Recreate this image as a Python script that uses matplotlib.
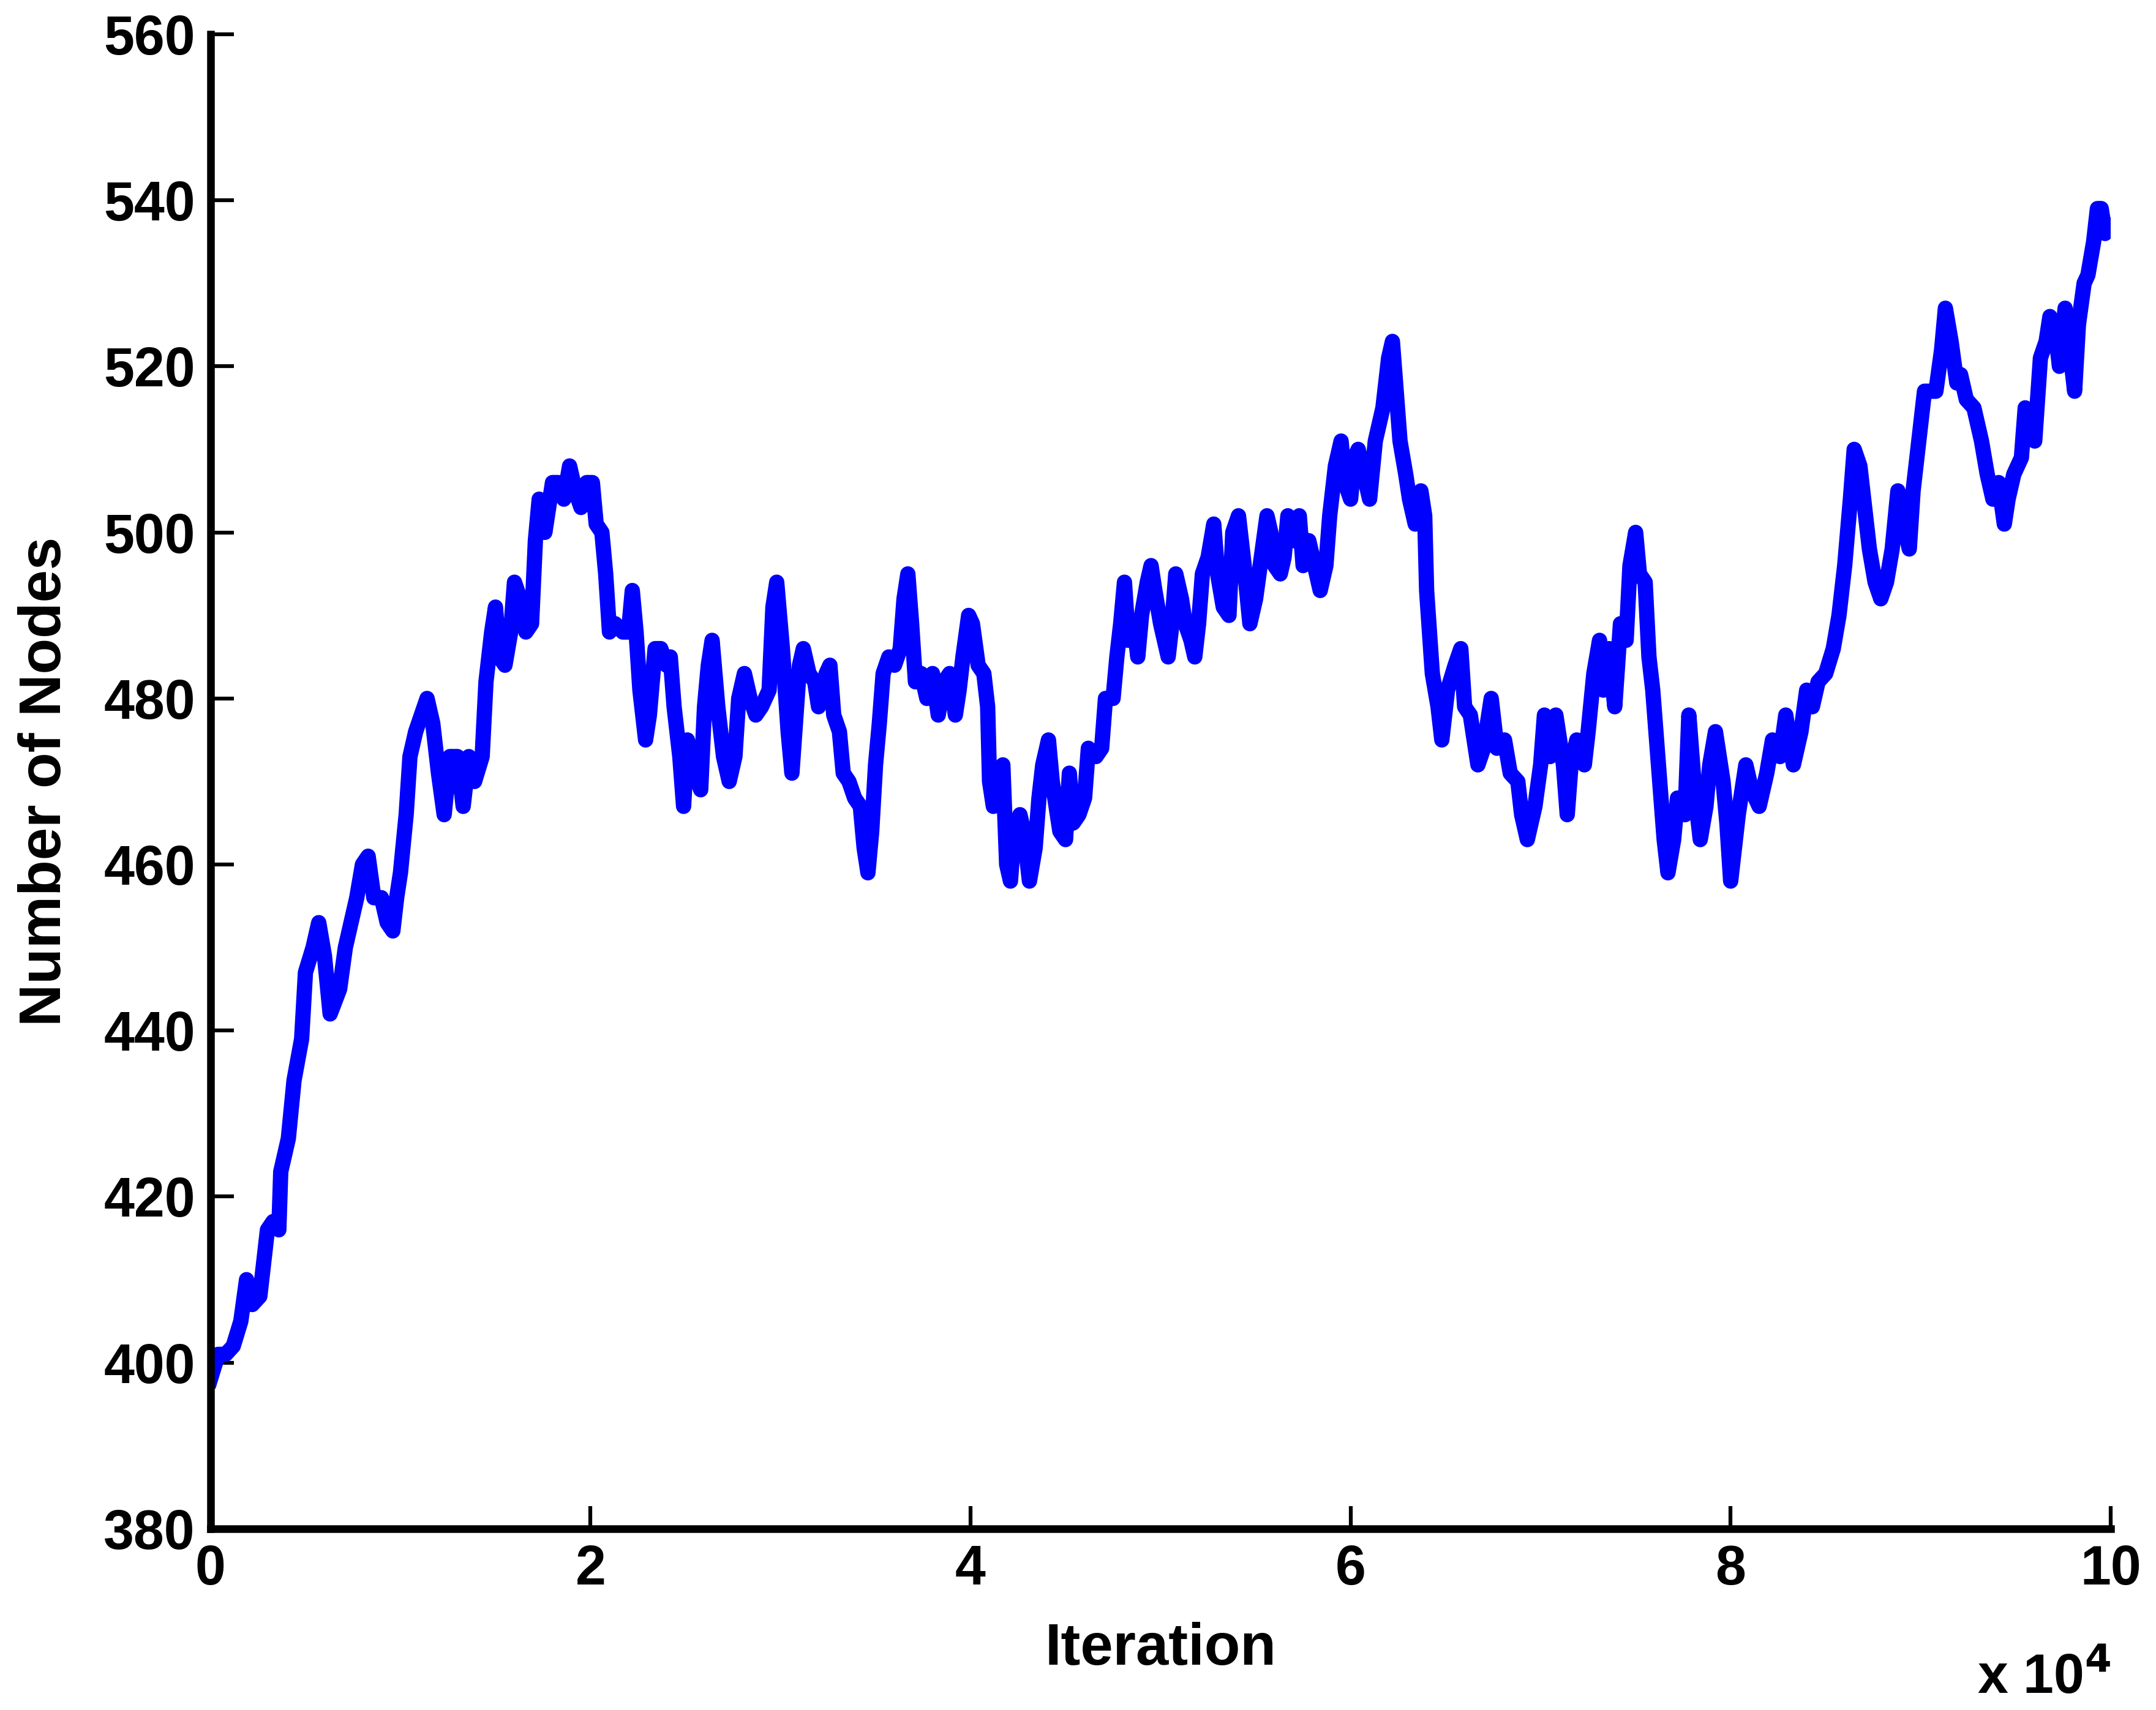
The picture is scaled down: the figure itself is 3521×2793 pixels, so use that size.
import numpy as np
import matplotlib
matplotlib.use('Agg')
import matplotlib.pyplot as plt

# iteration in units of 10^4
iter_e4 = [0.00, 0.04, 0.08, 0.12, 0.16, 0.19, 0.22, 0.26, 0.30, 0.33, 0.36, 0.37, 0.41, 0.44, 0.48, 0.50,
           0.54, 0.57, 0.60, 0.63, 0.68, 0.71, 0.74, 0.77, 0.80, 0.83, 0.86, 0.90, 0.93, 0.96, 0.98, 1.00,
           1.03, 1.05, 1.08, 1.11, 1.14, 1.17, 1.20, 1.23, 1.26, 1.30, 1.33, 1.36, 1.39, 1.43, 1.45, 1.48,
           1.50, 1.52, 1.55, 1.58, 1.60, 1.63, 1.66, 1.69, 1.71, 1.73, 1.76, 1.80, 1.83, 1.86, 1.89, 1.92,
           1.95, 1.98, 2.01, 2.03, 2.06, 2.08, 2.10, 2.13, 2.17, 2.20, 2.22, 2.24, 2.26, 2.29, 2.31, 2.34,
           2.37, 2.40, 2.42, 2.44, 2.47, 2.49, 2.51, 2.55, 2.58, 2.60, 2.62, 2.64, 2.67, 2.70, 2.73, 2.76,
           2.78, 2.81, 2.84, 2.87, 2.90, 2.94, 2.96, 2.98, 3.01, 3.04, 3.06,
           3.10, 3.12, 3.15, 3.18, 3.20, 3.24, 3.26, 3.28, 3.31, 3.33, 3.36, 3.39, 3.42, 3.44, 3.46, 3.48,
           3.50, 3.52, 3.54, 3.57, 3.60, 3.63, 3.65, 3.67, 3.69, 3.71, 3.74, 3.77, 3.80, 3.83, 3.86, 3.89,
           3.92, 3.94, 3.96, 3.99, 4.01, 4.04, 4.07, 4.09, 4.10, 4.12, 4.14, 4.17, 4.19, 4.21, 4.23, 4.26,
           4.28, 4.31, 4.34, 4.36, 4.38, 4.41, 4.43, 4.45, 4.47, 4.50, 4.52, 4.54, 4.57, 4.60, 4.62, 4.66,
           4.69, 4.71, 4.75, 4.77, 4.79, 4.81, 4.83, 4.86, 4.88, 4.90, 4.93, 4.95, 4.97, 5.00, 5.04, 5.06,
           5.08, 5.11, 5.13, 5.16, 5.18, 5.20, 5.22, 5.25, 5.28, 5.30, 5.33, 5.36, 5.38, 5.41, 5.44, 5.47,
           5.50, 5.53, 5.56, 5.58, 5.60, 5.63, 5.65, 5.67, 5.70, 5.73, 5.75, 5.78, 5.81, 5.84, 5.87, 5.89,
           5.92, 5.95, 5.97, 6.00, 6.02, 6.04, 6.07, 6.10, 6.13,
           6.17, 6.20, 6.22, 6.24, 6.26, 6.29, 6.31, 6.34, 6.37, 6.39, 6.40, 6.43, 6.46, 6.48, 6.51, 6.55,
           6.58, 6.60, 6.63, 6.67, 6.70, 6.74, 6.77, 6.81, 6.84, 6.88, 6.90, 6.93, 6.97, 7.00, 7.02, 7.05,
           7.08, 7.12, 7.14, 7.16, 7.19, 7.23, 7.25, 7.28, 7.31, 7.33, 7.36, 7.39, 7.42, 7.45, 7.47, 7.50,
           7.52, 7.55, 7.57, 7.59, 7.62, 7.65, 7.67, 7.70, 7.72, 7.76, 7.78, 7.81, 7.84, 7.87, 7.89, 7.92,
           7.96, 7.98, 8.00, 8.04, 8.08, 8.11, 8.15, 8.19, 8.22, 8.26, 8.29, 8.33, 8.37, 8.40, 8.43, 8.46,
           8.50, 8.54, 8.57, 8.60, 8.63, 8.65, 8.68, 8.70, 8.73, 8.76, 8.79, 8.82, 8.85, 8.88, 8.91, 8.94,
           8.96, 8.99, 9.02, 9.05, 9.08, 9.11, 9.13, 9.16, 9.19, 9.21, 9.24, 9.28, 9.32, 9.35, 9.38, 9.41,
           9.44, 9.46, 9.49, 9.53, 9.55, 9.58, 9.60, 9.63, 9.66, 9.68, 9.71, 9.73, 9.76, 9.79, 9.81, 9.83,
           9.86, 9.88, 9.91, 9.93, 9.95, 9.97, 9.99]

nodes = [398, 401, 401, 402, 405, 410, 407, 408, 416, 417, 416, 423, 427, 434, 439, 447,
         450, 453, 449, 442, 445, 450, 453, 456, 460, 461, 456, 456, 453, 452, 456, 459,
         466, 473, 476, 478, 480, 477, 471, 466, 473, 473, 467, 473, 470, 473, 482, 488,
         491, 485, 484, 488, 494, 492, 488, 489, 499, 504, 500, 506, 506, 504, 508, 505,
         503, 506, 506, 501, 500, 495, 488, 489, 488, 488, 493, 488, 481, 475, 478, 486,
         486, 484, 485, 479, 473, 467, 475, 471, 469, 479, 484, 487, 479, 473, 470, 473,
         480, 483, 480, 478, 479, 481, 491, 494, 486, 476, 471,
         484, 486, 483, 482, 479, 483, 484, 478, 476, 471, 470, 468, 467, 462, 459, 464,
         472, 477, 483, 485, 484, 486, 492, 495, 489, 482, 483, 480, 483, 478, 482, 483,
         478, 481, 485, 490, 489, 484, 483, 479, 470, 467, 471, 472, 460, 458, 464, 466,
         464, 458, 462, 468, 472, 475, 470, 467, 464, 463, 471, 465, 466, 468, 474, 473,
         474, 480, 480, 485, 489, 494, 487, 489, 485, 490, 494, 496, 493, 489, 485, 489,
         495, 492, 489, 487, 485, 489, 495, 497, 501, 495, 491, 490, 500, 502, 496, 489,
         492, 497, 502, 500, 496, 495, 497, 502, 499, 502, 496, 499, 496, 493, 496, 502,
         508, 511, 506, 504, 509, 510, 507, 504, 511,
         515, 521, 523, 517, 511, 507, 504, 501, 505, 502, 493, 483, 479, 475, 481, 484,
         486, 479, 478, 472, 474, 480, 474, 475, 471, 470, 466, 463, 467, 472, 478, 473,
         478, 472, 466, 472, 475, 472, 476, 483, 487, 481, 486, 479, 489, 487, 496, 500,
         495, 494, 485, 481, 472, 463, 459, 463, 468, 466, 478, 469, 463, 467, 472, 476,
         470, 465, 458, 466, 472, 469, 467, 471, 475, 473, 478, 472, 476, 481, 479, 482,
         483, 486, 490, 496, 504, 510, 508, 504, 498, 494, 492, 494, 498, 505, 501, 498,
         505, 511, 517, 517, 517, 522, 527, 523, 518, 519, 516, 515, 511, 507, 504, 506,
         501, 504, 507, 509, 515, 513, 511, 521, 523, 526, 524, 520, 527, 521, 517, 525,
         530, 531, 535, 539, 539, 536, 537]

yticks = [380, 400, 420, 440, 460, 480, 500, 520, 540, 560]
xticks = [0, 2, 4, 6, 8, 10]

plt.rcParams['font.family'] = ['Liberation Sans', 'DejaVu Sans']
plt.rcParams['font.weight'] = 'bold'
fs_tick = 21.5
fs_lab = 23

fig = plt.figure(figsize=(3521/300.0, 2793/300.0), dpi=300)
ax = fig.add_axes([0.0976, 0.106, 0.979-0.0976, 0.98-0.106])

ax.plot(np.array(iter_e4)*1e4, nodes, color=(0, 0, 1), linewidth=6, solid_joinstyle='round')

ax.set_xlim(0, 1e5)
ax.set_ylim(380, 560)
ax.set_xticks([t*1e4 for t in xticks])
ax.set_xticklabels([str(t) for t in xticks])
ax.set_yticks(yticks)
ax.set_yticklabels([str(t) for t in yticks])

for s in ['top', 'right']:
    ax.spines[s].set_visible(False)
for s in ['left', 'bottom']:
    ax.spines[s].set_linewidth(3)
ax.tick_params(direction='in', length=9, width=1.5, labelsize=fs_tick, pad=6)
for lab in ax.get_xticklabels() + ax.get_yticklabels():
    lab.set_fontweight('bold')

ax.set_xlabel('Iteration', fontsize=fs_lab, fontweight='bold', labelpad=10)
ax.set_ylabel('Number of Nodes', fontsize=fs_lab, fontweight='bold', labelpad=12)
fig.text(0.979, 0.003, 'x 10$^{\\mathbf{4}}$', fontsize=fs_tick, fontweight='bold', ha='right', va='bottom')

fig.savefig('out.png', dpi=300)
